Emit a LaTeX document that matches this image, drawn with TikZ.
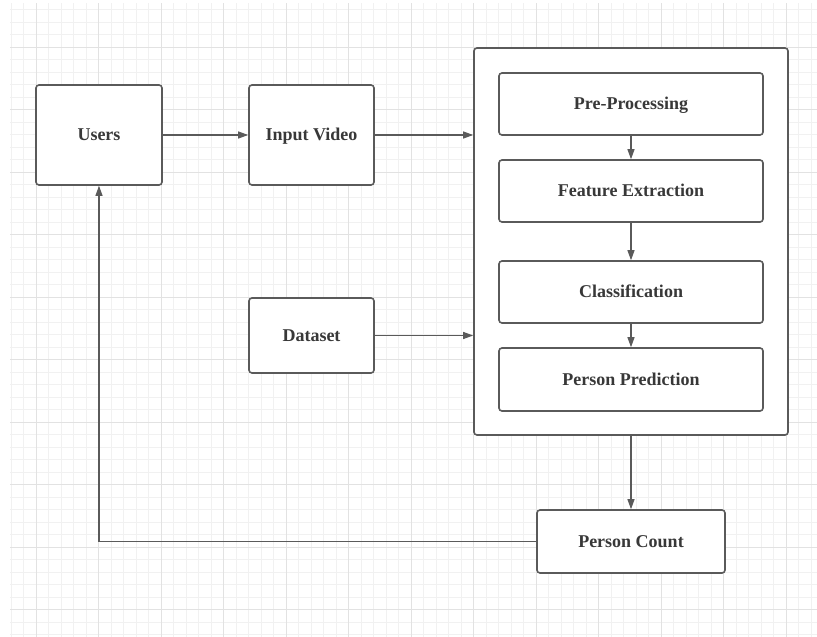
\documentclass[tikz,border=0pt]{standalone}
\usepackage{fontspec}
\setmainfont{Liberation Serif}
\usetikzlibrary{arrows.meta}

\definecolor{gridminor}{HTML}{F1F1F1}
\definecolor{gridmajor}{HTML}{E2E2E2}
\definecolor{edgegray}{HTML}{5A5A5A}
\definecolor{textgray}{HTML}{383838}

\tikzset{
    box/.style={draw=edgegray, line width=1.6pt, fill=white, rounded corners=3pt,
        text=textgray, font=\fontsize{18}{21}\selectfont\bfseries, inner sep=0pt,
        text height=11pt, text depth=0pt},
    link/.style={draw=edgegray, line width=1.1pt, -{Triangle[length=10pt,width=7pt]}},
}

\begin{document}
\begin{tikzpicture}[x=1pt, y=-1pt]
    \useasboundingbox (0,0) rectangle (817,637);
    % grid paper
    \foreach \i in {0,...,64}
        \draw[gridminor, line width=1pt] ({11+12.5*\i},3) -- ({11+12.5*\i},637);
    \foreach \i in {0,...,50}
        \draw[gridminor, line width=1pt] (10,{9.5+12.5*\i}) -- (817,{9.5+12.5*\i});
    \foreach \i in {0,...,12}
        \draw[gridmajor, line width=1pt] ({36+62.5*\i},3) -- ({36+62.5*\i},637);
    \foreach \i in {0,...,9}
        \draw[gridmajor, line width=1pt] (10,{47+62.5*\i}) -- (817,{47+62.5*\i});

    % boxes
    \node[box, minimum width=126pt, minimum height=100pt] (users) at (99,135) {Users};
    \node[box, minimum width=125pt, minimum height=100pt] (video) at (311.5,135) {Input Video};
    \node[box, minimum width=125pt, minimum height=75pt] (dataset) at (311.5,335.5) {Dataset};
    \node[box, minimum width=314pt, minimum height=387pt] (frame) at (631,241.5) {};
    \node[box, minimum width=264pt, minimum height=62pt] (pre) at (631,104) {Pre-Processing};
    \node[box, minimum width=264pt, minimum height=62pt] (feat) at (631,191) {Feature Extraction};
    \node[box, minimum width=264pt, minimum height=62pt] (cls) at (631,292) {Classification};
    \node[box, minimum width=264pt, minimum height=63pt] (pred) at (631,379.5) {Person Prediction};
    \node[box, minimum width=188pt, minimum height=63pt] (count) at (631,541.5) {Person Count};

    % connectors
    \draw[link] (users) -- (video);
    \draw[link] (video.east) -- (video.east -| frame.west);
    \draw[link] (dataset.east) -- (dataset.east -| frame.west);
    \draw[link] (pre) -- (feat);
    \draw[link] (feat) -- (cls);
    \draw[link] (cls) -- (pred);
    \draw[link] (frame) -- (count);
    \draw[link] (count.west) -| (users.south);
\end{tikzpicture}
\end{document}
